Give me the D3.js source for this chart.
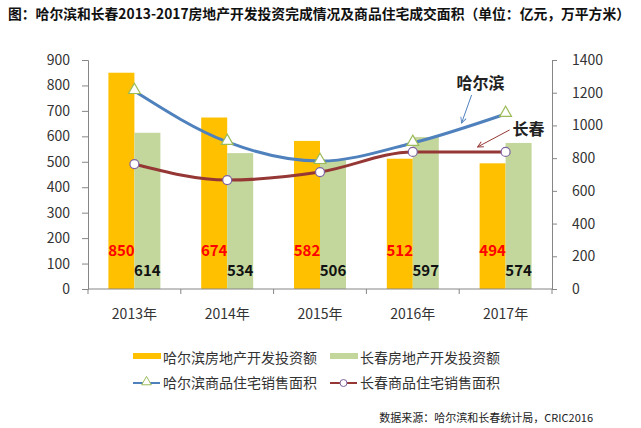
<!DOCTYPE html>
<html lang="zh">
<head>
<meta charset="UTF-8">
<title>哈尔滨和长春房地产开发投资</title>
<script src="https://d3js.org/d3.v7.min.js"></script>
<style>
  body { margin: 0; background: #fff; }
  text { font-family: "Noto Sans CJK SC", "Noto Sans", sans-serif; }
</style>
</head>
<body>
<svg width="641" height="428"></svg>
<script>
// data
var years = ["2013年", "2014年", "2015年", "2016年", "2017年"];
var hrbInvest = [850, 674, 582, 512, 494];     // 亿元
var ccInvest = [614, 534, 506, 597, 574];      // 亿元
var hrbArea = [1210, 899, 782, 893, 1070];     // 万平方米
var ccArea = [764, 666, 715, 838, 838];        // 万平方米
var leftTicks = [0, 100, 200, 300, 400, 500, 600, 700, 800, 900];
var rightTicks = [0, 200, 400, 600, 800, 1000, 1200, 1400];

var svg = d3.select("svg");
var plotL = 88, plotR = 552, plotT = 60, plotB = 289;

var x = d3.scaleBand().domain(years).range([plotL, plotR]).padding(0);
var bw = x.bandwidth();
var pair = bw * 0.56;
var x1 = d3.scaleBand().domain(["hrb", "cc"]).range([(bw - pair) / 2, (bw + pair) / 2]);
var yL = d3.scaleLinear().domain([0, 900]).range([plotB, plotT]);
var yR = d3.scaleLinear().domain([0, 1400]).range([plotB, plotT]);

// title
svg.append("text")
    .attr("x", 8).attr("y", 19)
    .attr("font-size", 14).attr("font-weight", "bold").attr("fill", "#111")
    .attr("textLength", 622).attr("lengthAdjust", "spacingAndGlyphs")
    .text("图：哈尔滨和长春2013-2017房地产开发投资完成情况及商品住宅成交面积（单位：亿元，万平方米）");

// bars
var g = svg.append("g");
g.selectAll("rect.hrb").data(hrbInvest).enter().append("rect")
    .attr("x", function (d, i) { return x(years[i]) + x1("hrb"); })
    .attr("y", function (d) { return yL(d); })
    .attr("width", x1.bandwidth())
    .attr("height", function (d) { return yL(0) - yL(d); })
    .attr("fill", "#FFC000");
g.selectAll("rect.cc").data(ccInvest).enter().append("rect")
    .attr("x", function (d, i) { return x(years[i]) + x1("cc"); })
    .attr("y", function (d) { return yL(d); })
    .attr("width", x1.bandwidth())
    .attr("height", function (d) { return yL(0) - yL(d); })
    .attr("fill", "#C3D69B");

// axes
var axisColor = "#868686";
var axL = svg.append("g").attr("transform", "translate(" + plotL + ",0)")
    .call(d3.axisLeft(yL).tickValues(leftTicks).tickFormat(d3.format("d")).tickSize(6).tickPadding(12));
var axR = svg.append("g").attr("transform", "translate(" + plotR + ",0)")
    .call(d3.axisRight(yR).tickValues(rightTicks).tickFormat(d3.format("d")).tickSize(5).tickPadding(15));
var axB = svg.append("g").attr("transform", "translate(0," + plotB + ")")
    .call(d3.axisBottom(x).tickSize(0).tickPadding(20));
[axL, axR, axB].forEach(function (a) {
    a.selectAll("path, line").attr("stroke", axisColor);
    a.selectAll("text").attr("font-size", 14).attr("fill", "#333")
        .style("font-family", "'Noto Sans CJK SC', 'Noto Sans', sans-serif");
});
axB.select("path").attr("d", "M" + plotL + ",0H" + plotR);
// category boundary ticks
axB.selectAll("line.bound").data(d3.range(years.length + 1)).enter().append("line")
    .attr("class", "bound")
    .attr("x1", function (i) { return plotL + i * x.step(); })
    .attr("x2", function (i) { return plotL + i * x.step(); })
    .attr("y1", 0).attr("y2", 5)
    .attr("stroke", axisColor);

// value labels
g.selectAll("text.hrb").data(hrbInvest).enter().append("text")
    .attr("x", function (d, i) { return x(years[i]) + x1("hrb") + x1.bandwidth() / 2; })
    .attr("y", yL(150)).attr("dy", "0.35em")
    .attr("text-anchor", "middle").attr("font-size", 15).attr("font-weight", "bold")
    .attr("fill", "#FF0000")
    .text(function (d) { return d; });
g.selectAll("text.cc").data(ccInvest).enter().append("text")
    .attr("x", function (d, i) { return x(years[i]) + x1("cc") + x1.bandwidth() / 2; })
    .attr("y", yL(70)).attr("dy", "0.35em")
    .attr("text-anchor", "middle").attr("font-size", 15).attr("font-weight", "bold")
    .attr("fill", "#111")
    .text(function (d) { return d; });

// lines
var cx = function (d, i) { return x(years[i]) + bw / 2; };
var line = d3.line().x(cx).y(function (d) { return yR(d); }).curve(d3.curveMonotoneX);
svg.append("path").datum(hrbArea).attr("d", line)
    .attr("fill", "none").attr("stroke", "#4F81BD").attr("stroke-width", 3);
svg.append("path").datum(ccArea).attr("d", line)
    .attr("fill", "none").attr("stroke", "#953735").attr("stroke-width", 3);

var tri = d3.symbol().type(d3.symbolTriangle).size(60);
svg.selectAll("path.tri").data(hrbArea).enter().append("path")
    .attr("class", "tri")
    .attr("transform", function (d, i) { return "translate(" + cx(d, i) + "," + (yR(d) - 1) + ")"; })
    .attr("d", tri)
    .attr("fill", "#fff").attr("stroke", "#9BBB59").attr("stroke-width", 1.2);
svg.selectAll("circle.cc").data(ccArea).enter().append("circle")
    .attr("cx", cx).attr("cy", function (d) { return yR(d); })
    .attr("r", 4.5)
    .attr("fill", "#fff").attr("stroke", "#8064A2").attr("stroke-width", 1.2);

// callouts
var defs = svg.append("defs");
function arrowHead(id, color) {
    defs.append("marker").attr("id", id)
        .attr("viewBox", "0 0 10 10").attr("refX", 9).attr("refY", 5)
        .attr("markerWidth", 7).attr("markerHeight", 7).attr("orient", "auto")
        .append("path").attr("d", "M1,1L9,5L1,9").attr("fill", "none")
        .attr("stroke", color).attr("stroke-width", 1.3);
}
arrowHead("ah-b", "#4F81BD");
arrowHead("ah-r", "#953735");

var x17 = x(years[4]) + bw / 2;
svg.append("line")
    .attr("x1", x17 - 34).attr("y1", yR(hrbArea[4]) - 19)
    .attr("x2", x17 - 44).attr("y2", yR(hrbArea[4]) + 9)
    .attr("stroke", "#4F81BD").attr("stroke-width", 1)
    .attr("marker-end", "url(#ah-b)");
svg.append("text")
    .attr("x", x17 - 25).attr("y", yR(hrbArea[4]) - 31).attr("dy", "0.35em")
    .attr("text-anchor", "middle").attr("font-size", 16).attr("font-weight", "bold")
    .attr("fill", "#222").text("哈尔滨");
svg.append("line")
    .attr("x1", x17 + 4).attr("y1", yR(ccArea[4]) - 22)
    .attr("x2", x17 - 28).attr("y2", yR(ccArea[4]) - 5)
    .attr("stroke", "#953735").attr("stroke-width", 1)
    .attr("marker-end", "url(#ah-r)");
svg.append("text")
    .attr("x", x17 + 23).attr("y", yR(ccArea[4]) - 23).attr("dy", "0.35em")
    .attr("text-anchor", "middle").attr("font-size", 16).attr("font-weight", "bold")
    .attr("fill", "#222").text("长春");

// legend
var legend = [
    { name: "哈尔滨房地产开发投资额", kind: "bar", color: "#FFC000", x: 133, y: 358 },
    { name: "长春房地产开发投资额", kind: "bar", color: "#C3D69B", x: 330, y: 358 },
    { name: "哈尔滨商品住宅销售面积", kind: "tri", color: "#4F81BD", x: 133, y: 383 },
    { name: "长春商品住宅销售面积", kind: "dot", color: "#953735", x: 330, y: 383 }
];
var lg = svg.selectAll("g.lg").data(legend).enter().append("g")
    .attr("transform", function (d) { return "translate(" + d.x + "," + d.y + ")"; });
lg.filter(function (d) { return d.kind === "bar"; }).append("rect")
    .attr("x", 0).attr("y", -5).attr("width", 28).attr("height", 6)
    .attr("fill", function (d) { return d.color; });
lg.filter(function (d) { return d.kind !== "bar"; }).append("line")
    .attr("x1", 0).attr("x2", 27).attr("y1", 0).attr("y2", 0)
    .attr("stroke", function (d) { return d.color; }).attr("stroke-width", 2);
lg.filter(function (d) { return d.kind === "tri"; }).append("path")
    .attr("d", d3.symbol().type(d3.symbolTriangle).size(40))
    .attr("transform", "translate(13.5,-1)")
    .attr("fill", "#fff").attr("stroke", "#9BBB59");
lg.filter(function (d) { return d.kind === "dot"; }).append("circle")
    .attr("cx", 13.5).attr("cy", 0).attr("r", 3.5)
    .attr("fill", "#fff").attr("stroke", "#8064A2");
lg.append("text")
    .attr("x", 30).attr("y", 0).attr("dy", "0.35em")
    .attr("font-size", 14).attr("fill", "#333")
    .text(function (d) { return d.name; });

// source
svg.append("text")
    .attr("x", 593).attr("y", 418).attr("dy", "0.35em")
    .attr("text-anchor", "end").attr("font-size", 11).attr("fill", "#222")
    .text("数据来源：哈尔滨和长春统计局，CRIC2016");
</script>
</body>
</html>
